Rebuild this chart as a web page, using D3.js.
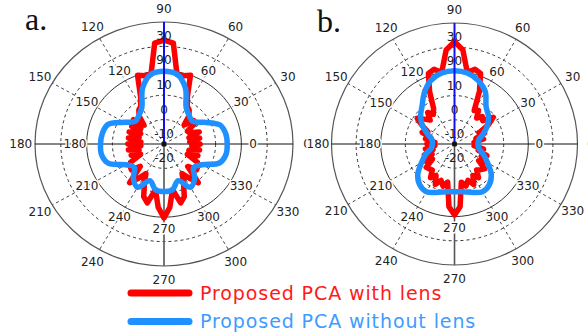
<!DOCTYPE html>
<html><head><meta charset="utf-8">
<script src="https://cdn.jsdelivr.net/npm/d3@7"></script>
<style>body{margin:0;background:#fff}svg{display:block}</style>
</head><body><svg id="c" width="588" height="335"></svg>
<script>
// ---------- data ----------
const angles10 = [0,10,20,30,40,50,60,70,80,90,100,110,120,130,140,150,160,170,
  180,190,200,210,220,230,240,250,260,270,280,290,300,310,320,330,340,350];
const angles5 = [0,5,10,15,20,25,30,35,40,45,50,55,60,65,70,75,80,85,90,95,100,105,110,115,
  120,125,130,135,140,145,150,155,160,165,170,175,180,185,190,195,200,205,210,215,220,225,230,235,
  240,245,250,255,260,265,270,275,280,285,290,295,300,305,310,315,320,325,330,335,340,345,350,355];

// panel a – without lens (blue), 10° steps, dB
const blueA = [4.5,4.3,3.0,-2.2,-5.5,-4.8,-2.8,4.3,9.0,9.8,9.0,4.3,-2.8,-4.8,-5.5,-2.2,3.2,4.3,
  4.6,4.6,3.0,-3.0,-5.0,-1.5,0.5,-4.0,-1.0,-0.5,-1.0,-4.0,0.5,-1.5,-5.0,-3.0,2.8,4.4];
// panel a – with lens (red), 5° steps, dB
const redA = [-6,-10,-6,-10,-5.5,-9,-9.5,-5.5,-5,-9,-5,-3,-2,1.5,10,9,9,21.5,22.6,21.5,9,9,10,1.5,
  -2,-3,-5,-9,-4.5,-9,-5.5,-10,-5.6,-10,-6,-11,-6,-11,-6,-10,-6.5,-10,-5,-4,-3.5,-7,0.7,-3,
  -6,-2,3,5,-1,6,10.3,6,-1,5,3,-2,-6,-3,0.7,-7,-3.5,-4,-5,-10,-6,-10,-6,-9];

// panel b – without lens (blue), 10° steps, dB
const blueB = [-10.5,-10,-7.5,-4.5,-2,0,5,8,9.8,10.3,9.8,8,4.5,0.5,-2,-5,-8.5,-10.8,
  -11,-10.5,-7.5,-4.5,-0.5,2,2.8,1.3,0,-0.3,0,1.3,2.8,2,-0.5,-4.5,-7.5,-10];
// panel b – with lens (red), 5° steps, dB
const redB = [-11.5,-12,-8,-11,-7,-9,-4,-0.8,-5,-4,-6,-3,-4,4,11,12,10,19,22.3,19,10,12,11,4,
  -3,-5,-3,-6,-4,-1.5,-5,-8,-6,-10,-8,-12,-8.8,-12,-8,-11,-7,-10,-6,-9,-5,-5.5,-6,-3,
  -5,-1.6,-4,-2,-4,6,9.3,6,-4,-2,-4,-1.5,-5,-3,-6,-5,-4,-8,-5,-8,-6,-10,-8,-12];

const angleTicks = [0,30,60,90,120,150,180,210,240,270,300,330];
const radialTicks = [-20,-10,0,10,30];
const radialDomain = [-20,30];
const gridCircles = [-10,0,10,20,30];
const dashedCircles = [-10,0,20];
const panelLabels = ["a.","b."];
const seriesNames = ["Proposed PCA with lens","Proposed PCA without lens"];
const seriesColors = ["#ff0000","#1e90ff"];

// ---------- drawing ----------
const svg = d3.select("#c");
const ang = d3.scaleLinear().domain([0,360]).range([0,2*Math.PI]);
const rad = d3.scaleLinear().domain(radialDomain).range([0,1]);

const panels = [
  {cx:164, cy:144, rx:129, ry:122, lx:25, ly:30, red:redA, blue:blueA, label:panelLabels[0]},
  {cx:454.5, cy:144, rx:123, ry:121, lx:317, ly:32, red:redB, blue:blueB, label:panelLabels[1]}
];

function drawPanel(p){
  const g = svg.append("g");
  const X = (deg,v)=> p.cx + rad(v)*p.rx*Math.cos(ang(deg));
  const Y = (deg,v)=> p.cy - rad(v)*p.ry*Math.sin(ang(deg));
  const grid = g.append("g");
  grid.selectAll("ellipse").data(gridCircles).join("ellipse")
    .attr("cx",p.cx).attr("cy",p.cy)
    .attr("rx",d=>rad(d)*p.rx).attr("ry",d=>rad(d)*p.ry)
    .attr("fill","none").attr("stroke",d=>d===30?"#555":"#333")
    .attr("stroke-width",d=>d===30?1.2:1)
    .attr("stroke-dasharray",d=>dashedCircles.includes(d)?"3,3":null);
  grid.selectAll("line.spoke").data(angleTicks.filter(t=>t%90!==0)).join("line")
    .attr("class","spoke")
    .attr("x1",p.cx).attr("y1",p.cy)
    .attr("x2",d=>X(d,30)).attr("y2",d=>Y(d,30))
    .attr("stroke","#444").attr("stroke-width",1).attr("stroke-dasharray","3,3");
  grid.append("line").attr("x1",X(180,30)).attr("x2",X(0,30))
    .attr("y1",p.cy).attr("y2",p.cy).attr("stroke","#111").attr("stroke-width",1.2);
  grid.append("line").attr("x1",p.cx).attr("x2",p.cx)
    .attr("y1",p.cy).attr("y2",Y(270,30)).attr("stroke","#555").attr("stroke-width",1.6);

  const outerR = 35.5, innerR = 14.5;
  const lab = [];
  angleTicks.forEach(t=>{
    lab.push({t, x:X(t,outerR), y:Y(t,outerR), halo:true});
    lab.push({t, x:X(t,innerR), y:Y(t,innerR), halo:t!==90});
  });
  const font = "'DejaVu Sans', Verdana, sans-serif";
  g.append("g").selectAll("text").data(lab.filter(d=>d.halo)).join("text")
    .attr("x",d=>d.x).attr("y",d=>d.y).attr("dy","0.36em")
    .attr("text-anchor","middle").attr("font-family",font).attr("font-size",12)
    .attr("fill","none").attr("stroke","#fff").attr("stroke-width",3)
    .text(d=>d.t);

  const line = d3.line().x(d=>X(d[0],d[1])).y(d=>Y(d[0],d[1]));
  g.append("path")
    .datum(angles5.map((a,i)=>[a,p.red[i]]))
    .attr("d", line.curve(d3.curveLinearClosed))
    .attr("fill","none").attr("stroke",seriesColors[0]).attr("stroke-width",5.5)
    .attr("stroke-linejoin","round");
  g.append("path")
    .datum(angles10.map((a,i)=>[a,p.blue[i]]))
    .attr("d", line.curve(d3.curveCatmullRomClosed.alpha(0.5)))
    .attr("fill","none").attr("stroke",seriesColors[1]).attr("stroke-width",5.5)
    .attr("stroke-linejoin","round");

  g.append("line").attr("x1",p.cx).attr("x2",p.cx)
    .attr("y1",Y(90,30)).attr("y2",p.cy)
    .attr("stroke","#1010ee").attr("stroke-width",2);
  g.append("circle").attr("cx",p.cx).attr("cy",p.cy).attr("r",2.5).attr("fill","#111");

  g.append("g").selectAll("text").data(lab).join("text")
    .attr("x",d=>d.x).attr("y",d=>d.y).attr("dy","0.36em")
    .attr("text-anchor","middle").attr("font-family",font).attr("font-size",12)
    .attr("fill","#222").text(d=>d.t);
  g.append("g").selectAll("text").data(radialTicks).join("text")
    .attr("x",p.cx).attr("y",d=>Y(90,d)+14).attr("dy","0.36em")
    .attr("text-anchor","middle").attr("font-family",font).attr("font-size",12)
    .attr("fill","#222").text(d=>d);
  g.append("text").attr("x",p.lx).attr("y",p.ly)
    .attr("font-family","'Liberation Serif','DejaVu Serif',serif").attr("font-size",32)
    .attr("fill","#111").text(p.label);
}
panels.forEach(drawPanel);

// legend
const leg = svg.append("g");
seriesNames.forEach((name,i)=>{
  const y = 293 + i*28.5;
  leg.append("line").attr("x1",131).attr("x2",189).attr("y1",y).attr("y2",y)
    .attr("stroke",seriesColors[i]).attr("stroke-width",7).attr("stroke-linecap","round");
  leg.append("text").attr("x",200).attr("y",y).attr("dy","0.36em")
    .attr("font-family","'DejaVu Sans', Verdana, sans-serif").attr("font-size",19)
    .attr("letter-spacing",0.9)
    .attr("fill",i===0?"#ff1a1a":"#3c9cff").text(name);
});
</script>
</body></html>
